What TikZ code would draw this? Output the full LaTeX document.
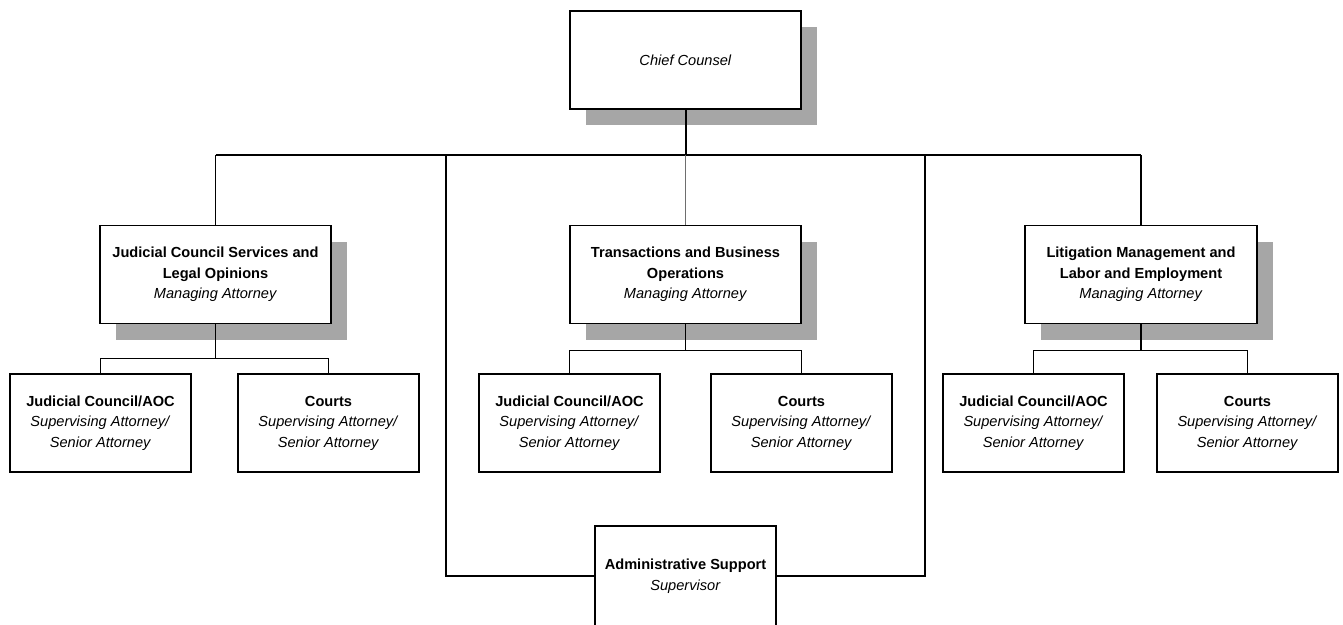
\documentclass[tikz,border=0pt]{standalone}
\usepackage{fontspec}
\setmainfont{Liberation Sans}
\usetikzlibrary{positioning,shadows}
\definecolor{shadowgray}{RGB}{166,166,166}
\definecolor{midline}{RGB}{110,110,110}

\begin{document}
\begin{tikzpicture}[
    x=1pt, y=-1pt,
    font=\fontsize{14.6}{20.5}\selectfont,
    box/.style={draw, line width=1.3pt, fill=white, align=center, inner sep=2pt,
                minimum width=181pt, minimum height=98pt},
    headbox/.style={box, minimum width=231pt,
                drop shadow={shadow xshift=16pt, shadow yshift=-16pt, fill=shadowgray, opacity=1}},
    link/.style={line width=1.3pt}
]
\useasboundingbox (0,0) rectangle (1343,624);

% top
\node[headbox] (chief) at (685.5,60) {\textit{Chief Counsel}};

% managing attorneys
\node[headbox] (jcs) at (215.5,274.5) {\textbf{Judicial Council Services and}\\\textbf{Legal Opinions}\\\textit{Managing Attorney}};
\node[headbox] (tbo) at (685.5,274.5) {\textbf{Transactions and Business}\\\textbf{Operations}\\\textit{Managing Attorney}};
\node[headbox, minimum width=232pt] (lme) at (1141,274.5) {\textbf{Litigation Management and}\\\textbf{Labor and Employment}\\\textit{Managing Attorney}};

% units
\foreach \nm/\xx/\ttl in {jcsA/100.5/{Judicial Council/AOC}, jcsB/328.5/Courts,
                          tboA/569.5/{Judicial Council/AOC}, tboB/801.5/Courts,
                          lmeA/1033.5/{Judicial Council/AOC}, lmeB/1247.5/Courts}
    \node[box] (\nm) at (\xx,423) {\textbf{\ttl}\\\textit{Supervising Attorney/}\\\textit{Senior Attorney}};

\node[box, minimum height=100pt] (admin) at (685.5,576) {\textbf{Administrative Support}\\\textit{Supervisor}};

% connectors
\coordinate (bus) at (0,155);
\coordinate (busL) at (446,155);
\coordinate (busR) at (925,155);
\draw[line width=2pt] (chief.south) -- (chief.south |- bus);
\draw[link] (jcs.north |- bus) -- (lme.north |- bus);
\draw[link] (jcs.north |- bus) -- (jcs.north);
\draw[link] (lme.north |- bus) -- (lme.north);
\draw[midline, line width=1pt] (tbo.north |- bus) -- (tbo.north);
\draw[link] (busL) |- (admin.west);
\draw[link] (busR) |- (admin.east);

\foreach \p/\dy in {jcs/34, tbo/26, lme/26} {
    \draw[link] (\p.south) -- ++(0,\dy) coordinate (\p-sub);
    \draw[link] (\p-sub) -| (\p A.north);
    \draw[link] (\p-sub) -| (\p B.north);
}
\end{tikzpicture}
\end{document}
